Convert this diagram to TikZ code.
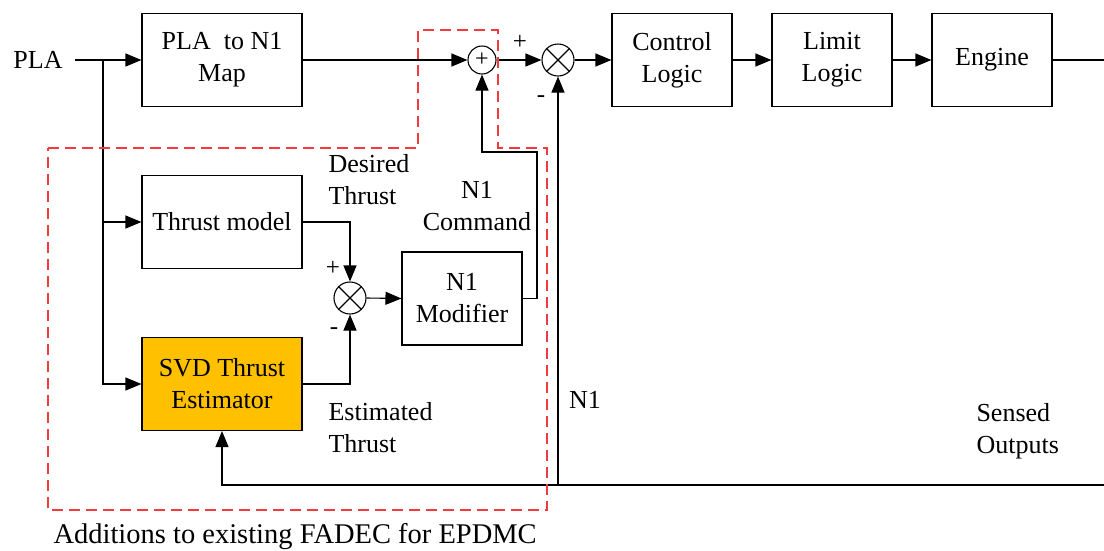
\documentclass[tikz,border=0pt]{standalone}
\usepackage{fontspec}
\setmainfont{Liberation Serif}
\usetikzlibrary{arrows.meta, positioning}
\definecolor{svdorange}{RGB}{255,192,0}
\definecolor{addred}{RGB}{240,60,60}
\tikzset{
  blockbox/.style={draw, minimum width=160pt, minimum height=93pt, align=center,
      font=\fontsize{26}{32}\selectfont, line width=1.1pt, fill=#1},
  blockbox/.default=white,
  smallbox/.style={blockbox, minimum width=120pt},
  sumnode/.style={draw, circle, minimum size=28pt, inner sep=0pt, line width=1.1pt,
      font=\fontsize{24}{24}\selectfont},
  mulnode/.style={draw, circle, minimum size=32pt, inner sep=0pt, line width=1.1pt},
  myarrow/.style={-{Triangle[length=16pt, width=13pt]}, line width=1.1pt},
  myline/.style={line width=1.1pt},
  mylbl/.style={font=\fontsize{26}{32}\selectfont, align=left},
  mysign/.style={font=\fontsize{25}{25}\selectfont, inner sep=0pt},
  addbox/.style={draw=addred, dash pattern=on 11pt off 6pt, line width=1.2pt},
}
\begin{document}
\begin{tikzpicture}[x=1pt, y=-1pt]
  \useasboundingbox (0,0) rectangle (1104,550);
  \node[mylbl] (pla) at (38,60) {PLA};
  \node[blockbox] (map) at (222,60) {PLA\ \ to N1\\Map};
  \node[sumnode] (sum) at (482,60) {+};
  \node[mulnode] (cmp) at (558,60) {};
  \draw[myline] (cmp.north east) -- (cmp.south west) (cmp.north west) -- (cmp.south east);
  \node[smallbox] (ctrl) at (672,60) {Control\\Logic};
  \node[smallbox] (limit) at (832,60) {Limit\\Logic};
  \node[smallbox] (engine) at (992,60) {Engine};
  \node[blockbox] (thrust) at (222,222) {Thrust model};
  \node[blockbox=svdorange] (svd) at (222,384) {SVD Thrust\\Estimator};
  \node[mulnode] (mod) at (350,298) {};
  \draw[myline] (mod.north east) -- (mod.south west) (mod.north west) -- (mod.south east);
  \node[smallbox] (n1mod) at (462,298.5) {N1\\Modifier};
  \coordinate (split) at (103,60);
  \coordinate (out) at (1104,60);
  \coordinate (fbr) at (1104,485);
  \coordinate (fbm) at (558,485);
  \coordinate (cmd) at (537,152);
  \draw[myline] (75,60) -- (split);
  \draw[myarrow] (split) -- (map.west);
  \draw[myarrow] (split) |- (thrust.west);
  \draw[myarrow] (split) |- (svd.west);
  \draw[myarrow] (map.east) -- (sum.west);
  \draw[myarrow] (sum.east) -- (cmp.west);
  \draw[myarrow] (cmp.east) -- (ctrl.west);
  \draw[myarrow] (ctrl.east) -- (limit.west);
  \draw[myarrow] (limit.east) -- (engine.west);
  \draw[myline] (engine.east) -- (out);
  \draw[line width=1.8pt] (fbr) -- (fbm);
  \draw[myarrow] (fbm) -- (cmp.south);
  \draw[myarrow] (fbm) -| (svd.south);
  \draw[myarrow] (thrust.east) -| (mod.north);
  \draw[myarrow] (svd.east) -| (mod.south);
  \draw[myarrow] (mod.east) -- (n1mod.west);
  \draw[myarrow] (n1mod.east) -| (cmd) -| (sum.south);
  \node[mysign] (p1) at (520,42) {+};
  \node[mysign] (m1) at (541,99) {-};
  \node[mysign] (p2) at (333,268) {+};
  \node[mysign] (m2) at (334,331) {-};
  \node[mylbl, anchor=west] (desired) at (325,180) {Desired\\Thrust};
  \node[mylbl, align=center] (command) at (477,206) {N1\\Command};
  \node[mylbl, anchor=west] (estimated) at (325,428) {Estimated\\Thrust};
  \node[mylbl] (n1) at (585,400) {N1};
  \node[mylbl, anchor=west] (sensed) at (973,431) {Sensed\\Outputs};
  \draw[addbox] (48,148) -- (418,148) -- (418,30) -- (498,30) -- (498,148)
      -- (547,148) -- (547,510) -- (48,510) -- cycle;
  \node[mylbl, font=\fontsize{28.5}{32}\selectfont, anchor=west] (caption) at (50,537)
      {Additions to existing FADEC for EPDMC};
\end{tikzpicture}
\end{document}
